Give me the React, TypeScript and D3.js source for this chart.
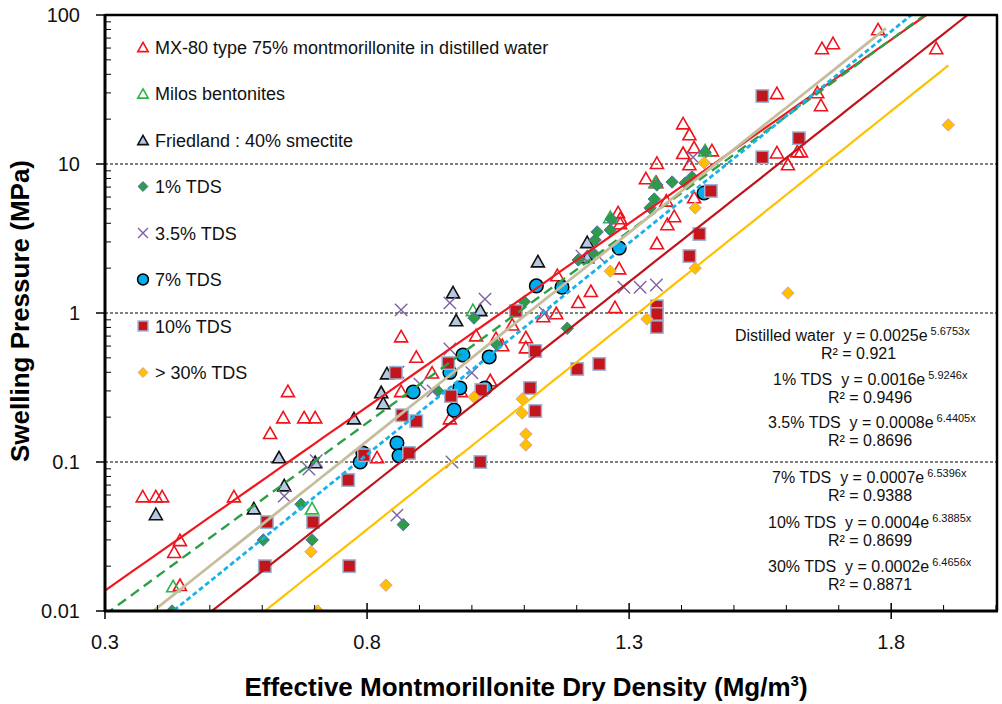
import React from 'react';
import * as d3 from 'd3';

const W = 1002;
const H = 704;

// ---- data (x: effective montmorillonite dry density, y: swelling pressure MPa)
const mx80: [number, number][] = [
  [0.372, 0.059], [0.397, 0.059], [0.409, 0.059], [0.443, 0.030], [0.432, 0.025], [0.443, 0.015],
  [0.546, 0.059], [0.615, 0.157], [0.640, 0.200], [0.649, 0.300], [0.680, 0.200], [0.701, 0.200],
  [0.819, 0.108], [0.865, 0.70], [0.894, 0.51], [0.924, 0.40], [0.865, 0.30], [0.958, 0.197],
  [0.979, 0.30], [1.008, 0.71], [1.035, 0.355], [1.046, 0.68], [1.058, 0.61], [1.077, 0.84],
  [1.103, 0.69], [1.103, 0.59], [1.136, 0.955], [1.163, 1.80], [1.161, 1.0], [1.203, 1.19],
  [1.227, 1.41], [1.273, 1.10], [1.281, 2.0], [1.279, 4.76], [1.283, 4.34], [1.283, 4.02],
  [1.332, 8.05], [1.352, 7.57], [1.353, 10.2], [1.353, 2.95], [1.373, 3.96], [1.386, 4.48],
  [1.403, 18.8], [1.415, 15.9], [1.424, 13.0], [1.403, 11.9], [1.415, 10.0], [1.458, 12.4],
  [1.424, 6.0], [1.371, 5.7], [1.582, 30.0], [1.582, 12.0], [1.603, 10.0], [1.621, 12.2],
  [1.628, 12.2], [1.659, 30.4], [1.666, 24.9], [1.668, 60.1], [1.689, 64.9], [1.775, 80.5],
  [1.886, 60.1],
];
const milos: [number, number][] = [
  [0.430, 0.0147], [0.695, 0.049], [1.002, 1.05], [1.264, 4.41], [1.350, 7.57], [1.445, 12.4],
];
const friedland: [number, number][] = [
  [0.397, 0.0448], [0.584, 0.049], [0.632, 0.108], [0.642, 0.070], [0.701, 0.100], [0.775, 0.197],
  [0.827, 0.295], [0.831, 0.249], [0.838, 0.395], [0.964, 1.38], [0.970, 0.897], [1.016, 1.05],
  [1.126, 2.23], [1.220, 3.0], [1.220, 2.38],
];
const tds1: [number, number][] = [
  [0.428, 0.010], [0.602, 0.030], [0.674, 0.052], [0.695, 0.030], [0.869, 0.038], [0.935, 0.30],
  [1.004, 0.925], [1.048, 0.61], [1.100, 1.19], [1.182, 0.79], [1.203, 2.27], [1.231, 2.53],
  [1.235, 3.09], [1.239, 3.50], [1.264, 3.61], [1.266, 4.27], [1.340, 5.07], [1.348, 5.82],
  [1.353, 7.23], [1.382, 7.57], [1.407, 7.45], [1.420, 8.18], [1.445, 12.0],
];
const tds35: [number, number][] = [
  [0.642, 0.059], [0.689, 0.0897], [0.703, 0.102], [0.857, 0.044], [0.865, 1.05], [0.859, 0.40],
  [0.901, 0.333], [0.926, 0.30], [0.958, 1.17], [0.958, 0.573], [0.962, 0.10], [1.000, 0.397],
  [1.025, 1.24], [1.140, 1.0], [1.210, 2.41], [1.241, 2.41], [1.290, 1.49], [1.321, 1.49],
  [1.352, 1.54], [1.422, 11.1],
];
const tds7: [number, number][] = [
  [0.787, 0.100], [0.792, 0.115], [0.857, 0.134], [0.861, 0.110], [0.888, 0.295], [0.958, 0.40],
  [0.966, 0.223], [0.977, 0.314], [0.983, 0.522], [1.025, 0.314], [1.033, 0.507], [1.123, 1.52],
  [1.172, 1.49], [1.281, 2.73], [1.443, 6.39],
];
const tds10: [number, number][] = [
  [0.605, 0.020], [0.609, 0.0395], [0.697, 0.0395], [0.764, 0.0757], [0.766, 0.020], [0.794, 0.111],
  [0.855, 0.397], [0.867, 0.206], [0.880, 0.115], [0.894, 0.188], [0.955, 0.461], [0.960, 0.277],
  [1.018, 0.304], [1.016, 0.100], [1.084, 1.03], [1.111, 0.314], [1.121, 0.556], [1.121, 0.220],
  [1.201, 0.421], [1.243, 0.455], [1.353, 1.11], [1.353, 0.985], [1.353, 0.805], [1.415, 2.41],
  [1.434, 3.39], [1.456, 6.59], [1.554, 28.6], [1.554, 11.1], [1.624, 14.9],
];
const tds30: [number, number][] = [
  [0.693, 0.025], [0.706, 0.010], [0.836, 0.0149], [1.004, 0.273], [1.096, 0.265], [1.096, 0.213],
  [1.103, 0.154], [1.103, 0.130], [1.264, 1.91], [1.334, 0.912], [1.426, 5.07], [1.426, 2.0],
  [1.443, 10.2], [1.603, 1.36], [1.909, 18.3],
];

const xTicks = [0.3, 0.8, 1.3, 1.8];
const xTickLabels = ['0.3', '0.8', '1.3', '1.8'];
const yTicks = [0.01, 0.1, 1, 10, 100];
const yTickLabels = ['0.01', '0.1', '1', '10', '100'];
const gridValues = [0.1, 1, 10];

const legendLabels = [
  'MX-80 type 75% montmorillonite in distilled water',
  'Milos bentonites',
  'Friedland : 40% smectite',
  '1% TDS',
  '3.5% TDS',
  '7% TDS',
  '10% TDS',
  '> 30% TDS',
];

const trendNames = ['Distilled water', '1% TDS', '3.5% TDS', '7% TDS', '10% TDS', '30% TDS'];
const trendA = ['0.0025', '0.0016', '0.0008', '0.0007', '0.0004', '0.0002'];
const trendAFit = [0.0025, 0.0016, 0.0008, 0.0006, 0.0004, 0.0002];
const trendB = ['5.6753', '5.9246', '6.4405', '6.5396', '6.3885', '6.4656'];
const trendR2 = ['0.921', '0.9496', '0.8696', '0.9388', '0.8699', '0.8871'];
const trendStart = [0.3, 0.3, 0.39, 0.42, 0.5, 0.605];
const trendEnd = [2.0, 2.0, 1.79, 2.0, 2.0, 1.909];

// ---- styles
const FONT = "Arial, 'Liberation Sans', sans-serif";
const trendStyles = [
  { stroke: '#f2161f', width: 2.2, dash: '' },
  { stroke: '#2e9f45', width: 2.4, dash: '10,6' },
  { stroke: '#c5bd9c', width: 2.8, dash: '' },
  { stroke: '#19b1ea', width: 2.8, dash: '5,3' },
  { stroke: '#c0141c', width: 2.2, dash: '' },
  { stroke: '#ffc000', width: 2.2, dash: '' },
];
const eqPos = [
  { x: 735, y: 341, rx: 821 },
  { x: 773, y: 385, rx: 828 },
  { x: 768, y: 428, rx: 828 },
  { x: 772, y: 483, rx: 828 },
  { x: 768, y: 528, rx: 828 },
  { x: 768, y: 572, rx: 828 },
];

const M = { left: 105, right: 996, top: 15, bottom: 611 };

type MarkerKind = 'triRed' | 'triGreen' | 'triBlue' | 'diaGreen' | 'cross' | 'circle' | 'square' | 'diaGold';

function Marker({ kind, cx, cy, s = 1 }: { kind: MarkerKind; cx: number; cy: number; s?: number }) {
  const tri = (w: number, h: number) =>
    `M${cx},${cy - h / 2}L${cx + w / 2},${cy + h / 2}L${cx - w / 2},${cy + h / 2}Z`;
  const dia = (r: number) => `M${cx},${cy - r}L${cx + r},${cy}L${cx},${cy + r}L${cx - r},${cy}Z`;
  switch (kind) {
    case 'triRed':
      return <path d={tri(13 * s, 11.5 * s)} fill="none" stroke="#f0141e" strokeWidth={1.6} />;
    case 'triGreen':
      return <path d={tri(13 * s, 11.5 * s)} fill="none" stroke="#2db34a" strokeWidth={1.6} />;
    case 'triBlue':
      return <path d={tri(13 * s, 11.5 * s)} fill="#b7c9e2" stroke="#111" strokeWidth={1.6} />;
    case 'diaGreen':
      return <path d={dia(6.2 * s)} fill="#2f9a48" stroke="#4a74a8" strokeWidth={1} />;
    case 'diaGold':
      return <path d={dia(6.2 * s)} fill="#ffc000" stroke="#d8a0a0" strokeWidth={1} />;
    case 'cross': {
      const r = 6.2 * s;
      return (
        <path
          d={`M${cx - r},${cy - r}L${cx + r},${cy + r}M${cx - r},${cy + r}L${cx + r},${cy - r}`}
          stroke="#7e62a3"
          strokeWidth={1.4}
          fill="none"
        />
      );
    }
    case 'circle':
      return <circle cx={cx} cy={cy} r={6.8 * s} fill="#00aeef" stroke="#000" strokeWidth={1.5} />;
    case 'square': {
      const h = 6.2 * s;
      return <rect x={cx - h} y={cy - h} width={2 * h} height={2 * h} fill="#c3161c" stroke="#9bb3d4" strokeWidth={1.5} />;
    }
  }
  return null;
}

const seriesList: { data: [number, number][]; kind: MarkerKind }[] = [
  { data: mx80, kind: 'triRed' },
  { data: milos, kind: 'triGreen' },
  { data: friedland, kind: 'triBlue' },
  { data: tds1, kind: 'diaGreen' },
  { data: tds35, kind: 'cross' },
  { data: tds7, kind: 'circle' },
  { data: tds10, kind: 'square' },
  { data: tds30, kind: 'diaGold' },
];

export default function App() {
  const x = d3.scaleLinear().domain([0.3, 2.0]).range([M.left, M.right]);
  const y = d3.scaleLog().domain([0.01, 100]).range([M.bottom, M.top]);

  const xMinor = d3.range(0.3, 2.0001, 0.1).map((v) => +v.toFixed(2)).filter((v) => !xTicks.includes(v));
  const yMinor: number[] = [];
  [0.01, 0.1, 1, 10].forEach((d) => {
    for (let k = 2; k <= 9; k++) yMinor.push(d * k);
  });

  const line = d3
    .line<[number, number]>()
    .x((d) => x(d[0]))
    .y((d) => y(d[1]));

  const trendPaths = trendAFit.map((A, i) => {
    const B = +trendB[i];
    const pts: [number, number][] = d3
      .range(0, 61)
      .map((k) => trendStart[i] + ((trendEnd[i] - trendStart[i]) * k) / 60)
      .map((xv) => [xv, A * Math.exp(B * xv)] as [number, number]);
    return line(pts) || '';
  });

  const legendY = (i: number) => 47 + i * 46.5;

  return (
    <svg
      width={W}
      height={H}
      style={{ position: 'absolute', left: 0, top: 0, background: '#fff' }}
      fontFamily={FONT}
    >
      <defs>
        <clipPath id="plotClip">
          <rect x={M.left} y={M.top} width={M.right - M.left} height={M.bottom - M.top} />
        </clipPath>
      </defs>
      <rect x={0} y={0} width={W} height={H} fill="#fff" />

      {/* grid */}
      {gridValues.map((g) => (
        <line key={g} x1={M.left} x2={M.right} y1={y(g)} y2={y(g)} stroke="#000" strokeWidth={1} strokeDasharray="3,2" />
      ))}

      {/* markers */}
      <g clipPath="url(#plotClip)">
        {seriesList.map((s, si) =>
          s.data.map((d, i) => <Marker key={`${si}-${i}`} kind={s.kind} cx={x(d[0])} cy={y(d[1])} />)
        )}
      </g>

      {/* trend lines */}
      <g clipPath="url(#plotClip)">
        {trendPaths.map((p, i) => (
          <path
            key={i}
            d={p}
            fill="none"
            stroke={trendStyles[i].stroke}
            strokeWidth={trendStyles[i].width}
            strokeDasharray={trendStyles[i].dash || undefined}
          />
        ))}
      </g>

      {/* frame */}
      <line x1={M.left} x2={M.right + 2} y1={M.top} y2={M.top} stroke="#000" strokeWidth={2.5} />
      <line x1={M.right + 1} x2={M.right + 1} y1={M.top} y2={M.bottom} stroke="#000" strokeWidth={2.5} />
      <line x1={M.left} x2={M.left} y1={M.top - 1} y2={M.bottom + 1} stroke="#000" strokeWidth={3} />
      <line x1={M.left - 1} x2={M.right + 2} y1={M.bottom} y2={M.bottom} stroke="#000" strokeWidth={3} />

      {/* y ticks */}
      {yTicks.map((t, i) => (
        <g key={t}>
          <line x1={M.left - 9} x2={M.left} y1={y(t)} y2={y(t)} stroke="#000" strokeWidth={1.5} />
          <text x={80} y={y(t)} dy="0.36em" textAnchor="end" fontSize={20} fill="#111">
            {yTickLabels[i]}
          </text>
        </g>
      ))}
      {yMinor.map((t) => (
        <line key={t} x1={M.left} x2={M.left + 6} y1={y(t)} y2={y(t)} stroke="#000" strokeWidth={1} />
      ))}

      {/* x ticks */}
      {xTicks.map((t, i) => (
        <g key={t}>
          <line x1={x(t)} x2={x(t)} y1={M.bottom - 8} y2={M.bottom + 8} stroke="#000" strokeWidth={1.5} />
          <text x={x(t)} y={649} textAnchor="middle" fontSize={20} fill="#111">
            {xTickLabels[i]}
          </text>
        </g>
      ))}
      {xMinor.map((t) => (
        <line key={t} x1={x(t)} x2={x(t)} y1={M.bottom - 6} y2={M.bottom} stroke="#000" strokeWidth={1} />
      ))}

      {/* axis titles */}
      <text x={526} y={696} textAnchor="middle" fontSize={26} fontWeight="bold" fill="#000">
        Effective Montmorillonite Dry Density (Mg/m
        <tspan dy={-10} fontSize={15}>3</tspan>
        <tspan dy={10}>)</tspan>
      </text>
      <text
        transform={`translate(29,311) rotate(-90)`}
        textAnchor="middle"
        fontSize={26}
        fontWeight="bold"
        fill="#000"
      >
        Swelling Pressure (MPa)
      </text>

      {/* legend */}
      {legendLabels.map((lab, i) => (
        <g key={lab}>
          <Marker kind={seriesList[i].kind} cx={143} cy={legendY(i)} s={0.8} />
          <text x={155} y={legendY(i) + 6.5} fontSize={18} fill="#111">
            {lab}
          </text>
        </g>
      ))}

      {/* equations */}
      {trendNames.map((n, i) => (
        <g key={n}>
          <text x={eqPos[i].x} y={eqPos[i].y} fontSize={16} fill="#111" style={{ whiteSpace: 'pre' }}>
            {`${n}  y = ${trendA[i]}e`}
            <tspan dx={3} dy={-6} fontSize={11}>{`${trendB[i]}x`}</tspan>
          </text>
          <text x={eqPos[i].rx} y={eqPos[i].y + 18} fontSize={16} fill="#111">
            {`R² = ${trendR2[i]}`}
          </text>
        </g>
      ))}
    </svg>
  );
}
